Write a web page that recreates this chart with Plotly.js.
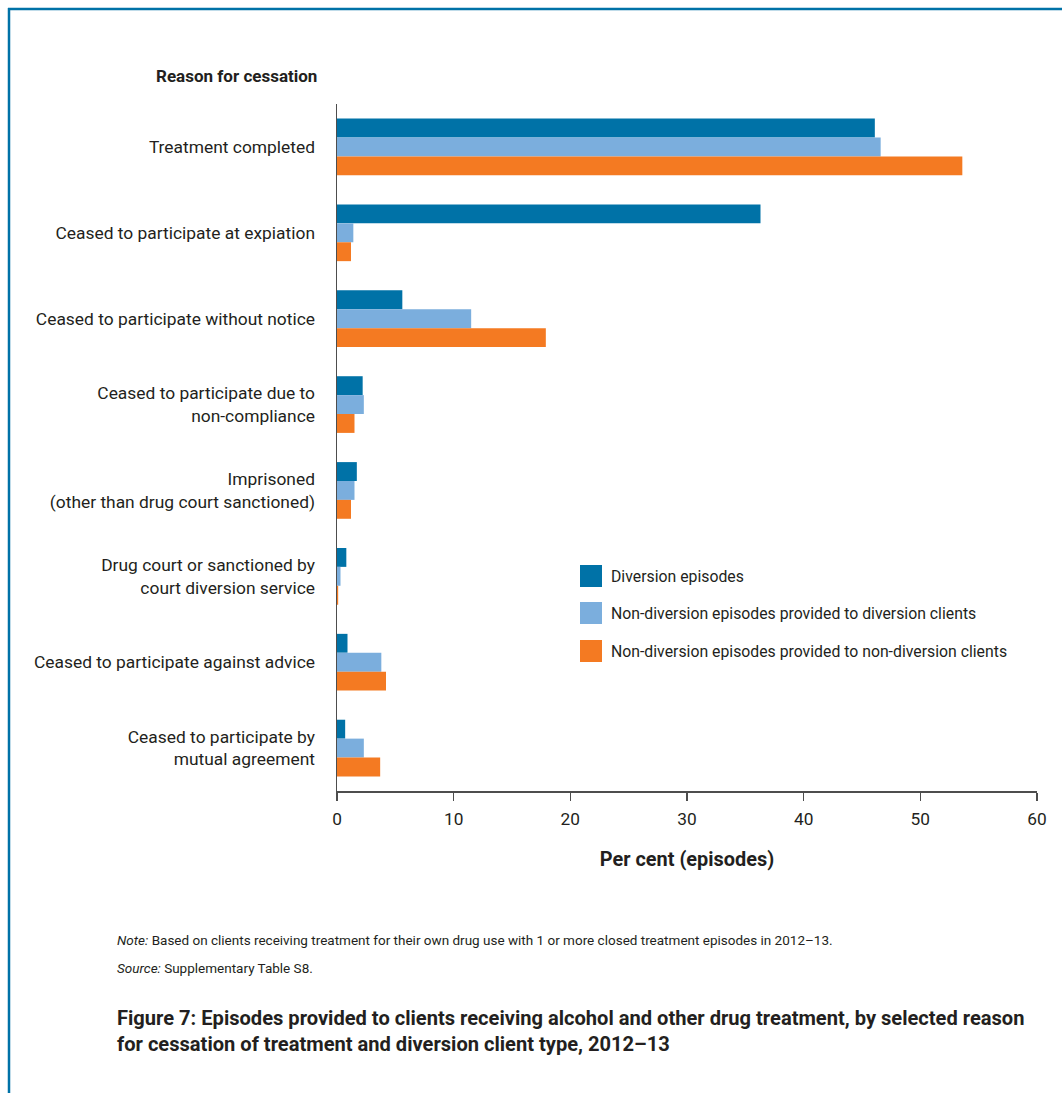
<!DOCTYPE html>
<html>
<head>
<meta charset="utf-8">
<script src="https://cdn.plot.ly/plotly-3.0.1.min.js"></script>
<style>
html,body{margin:0;padding:0;background:#fff;}
#chart{width:1062px;height:1093px;}
</style>
</head>
<body>
<div id="chart"></div>
<script>
const categories = [
  "Treatment completed",
  "Ceased to participate at expiation",
  "Ceased to participate without notice",
  "Ceased to participate due to<br>non-compliance",
  "Imprisoned<br>(other than drug court sanctioned)",
  "Drug court or sanctioned by<br>court diversion service",
  "Ceased to participate against advice",
  "Ceased to participate by<br>mutual agreement"
];
const seriesNames = [
  "Diversion episodes",
  "Non-diversion episodes provided to diversion clients",
  "Non-diversion episodes provided to non-diversion clients"
];
const diversionEpisodes = [46.1, 36.3, 5.6, 2.2, 1.7, 0.8, 0.9, 0.7];
const nonDivToDivClients = [46.6, 1.4, 11.5, 2.3, 1.5, 0.3, 3.8, 2.3];
const nonDivToNonDivClients = [53.6, 1.2, 17.9, 1.5, 1.2, 0.1, 4.2, 3.7];
const xTicks = [0, 10, 20, 30, 40, 50, 60];
const colors = ["#0072A7", "#7BAEDD", "#F47A22"];

const yTitle = "Reason for cessation";
const xTitle = "Per cent (episodes)";
const noteLabel = "Note:";
const noteText = " Based on clients receiving treatment for their own drug use with 1 or more closed treatment episodes in 2012–13.";
const sourceLabel = "Source:";
const sourceText = " Supplementary Table S8.";
const figTitle1 = "Figure 7: Episodes provided to clients receiving alcohol and other drug treatment, by selected reason";
const figTitle2 = "for cessation of treatment and diversion client type, 2012–13";

const FONT = "Roboto, 'Liberation Sans', 'DejaVu Sans', sans-serif";
const TXT = "#231f20";

// font sizes fitted to text widths seen in the reference
const ctx = document.createElement("canvas").getContext("2d");
function w100(text, weight, style) {
  ctx.font = (style || "normal") + " " + (weight || "normal") + " 100px " + FONT;
  return ctx.measureText(text).width;
}
const sz = (w, target) => Math.round(100 * target / w * 10) / 10;
const sLabel = sz(w100("Ceased to participate without notice"), 280);
const sYTitle = sz(w100(yTitle, "bold"), 161);
const sXTitle = sz(w100(xTitle, "bold"), 174);
const sNote = sz(w100(noteLabel, "normal", "italic") + w100(noteText), 713);
const sLegend = sz(w100(seriesNames[2]), 395);
const sFig = sz(w100(figTitle1, "bold"), 907);
const sTick = sz(w100("60"), 19.5);

const values = [diversionEpisodes, nonDivToDivClients, nonDivToNonDivClients];
const traces = values.map((v, i) => ({
  type: "bar",
  orientation: "h",
  name: seriesNames[i],
  x: v,
  y: categories,
  marker: {color: colors[i], line: {width: 0}},
  showlegend: false,
  hoverinfo: "x+y"
}));

const L = 337, R = 1037, T = 104, B = 791;
const W = R - L, H = B - T;
const px = x => (x - L) / W;
const py = y => (B - y) / H;

const shapes = [
  {type: "line", xref: "paper", yref: "paper", x0: px(8), x1: px(1062), y0: py(9), y1: py(9), line: {color: "#0072A7", width: 2.5}},
  {type: "line", xref: "paper", yref: "paper", x0: px(9), x1: px(9), y0: py(8), y1: py(1093), line: {color: "#0072A7", width: 2.5}}
];
const annotations = [
  {xref: "paper", yref: "paper", x: px(319), y: py(76), xanchor: "right", yanchor: "middle",
   text: "<b>" + yTitle + "</b>", showarrow: false, font: {family: FONT, size: sYTitle, color: TXT}},
  {xref: "paper", yref: "paper", x: px(115), y: py(940), xanchor: "left", yanchor: "middle",
   text: "<i>" + noteLabel + "</i>" + noteText,
   showarrow: false, font: {family: FONT, size: sNote, color: TXT}},
  {xref: "paper", yref: "paper", x: px(115), y: py(968), xanchor: "left", yanchor: "middle",
   text: "<i>" + sourceLabel + "</i>" + sourceText,
   showarrow: false, font: {family: FONT, size: sNote, color: TXT}},
  {xref: "paper", yref: "paper", x: px(115), y: py(1031), xanchor: "left", yanchor: "middle", align: "left",
   text: "<b>" + figTitle1 + "<br>" + figTitle2 + "</b>",
   showarrow: false, font: {family: FONT, size: sFig, color: TXT}}
];
const legRows = [576, 613, 651];
seriesNames.forEach((n, i) => {
  shapes.push({type: "rect", xref: "paper", yref: "paper", x0: px(580), x1: px(602), y0: py(legRows[i] - 11), y1: py(legRows[i] + 11),
    fillcolor: colors[i], line: {width: 0}});
  annotations.push({xref: "paper", yref: "paper", x: px(609), y: py(legRows[i]), xanchor: "left", yanchor: "middle",
    text: n, showarrow: false, font: {family: FONT, size: sLegend, color: TXT}});
});

const layout = {
  width: 1062, height: 1093,
  margin: {l: L, r: 1062 - R, t: T, b: 1093 - B, pad: 0},
  paper_bgcolor: "#ffffff", plot_bgcolor: "#ffffff",
  font: {family: FONT, size: sLabel, color: TXT},
  barmode: "group", bargap: 0.34, bargroupgap: 0,
  xaxis: {
    range: [0, 60], tickvals: xTicks, ticktext: xTicks.map(String),
    showgrid: false, zeroline: false, showline: true, linecolor: "#4d4d4d", linewidth: 1.5,
    ticks: "outside", ticklen: 8, tickwidth: 1.5, tickcolor: "#4d4d4d",
    ticklabelstandoff: 4,
    tickfont: {family: FONT, size: sTick, color: TXT},
    title: {text: "<b>" + xTitle + "</b>", font: {family: FONT, size: sXTitle, color: TXT}, standoff: 24},
    fixedrange: true
  },
  yaxis: {
    autorange: "reversed", type: "category",
    showgrid: false, zeroline: false, showline: true, linecolor: "#4d4d4d", linewidth: 1.5,
    ticks: "", ticklabelstandoff: 17,
    tickfont: {family: FONT, size: sLabel, color: TXT},
    fixedrange: true
  },
  shapes: shapes,
  annotations: annotations,
  showlegend: false
};

Plotly.newPlot("chart", traces, layout, {displayModeBar: false, staticPlot: true});
</script>
</body>
</html>
